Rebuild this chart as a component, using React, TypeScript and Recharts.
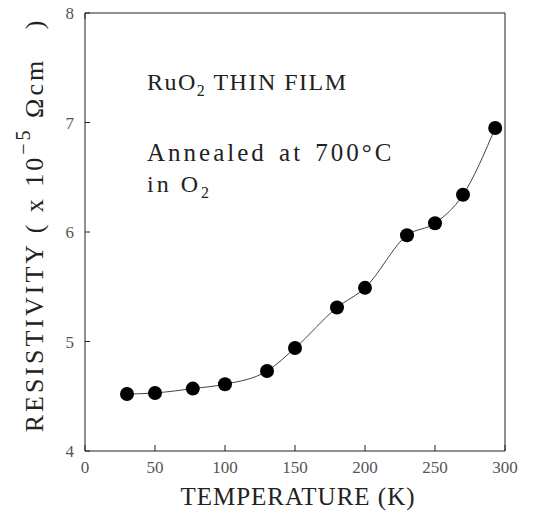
import React from 'react';
import { LineChart, Line, XAxis, YAxis } from 'recharts';

const temperature = [30, 50, 77, 100, 130, 150, 180, 200, 230, 250, 270, 293];
const resistivity = [4.52, 4.53, 4.57, 4.61, 4.73, 4.94, 5.31, 5.49, 5.97, 6.08, 6.34, 6.95];
const xTicks = [0, 50, 100, 150, 200, 250, 300];
const yTicks = [4, 5, 6, 7, 8];

const data = temperature.map((t, i) => ({ t, r: resistivity[i] }));

const FONT = '"Liberation Serif", "DejaVu Serif", serif';
const INK = '#222';
const LABEL = '#555';

const BottomTick: React.FC<any> = ({ x, y, payload }) => (
    <g>
        <line x1={x} y1={y} x2={x} y2={y - 6} stroke={INK} />
        <text x={x} y={y + 22} textAnchor="middle" fontSize={17} fill={LABEL} fontFamily={FONT}>
            {payload.value}
        </text>
    </g>
);

const TopTick: React.FC<any> = ({ x, y }) => (
    <line x1={x} y1={y} x2={x} y2={y + 6} stroke={INK} />
);

const LeftTick: React.FC<any> = ({ x, y, payload }) => (
    <g>
        <line x1={x} y1={y} x2={x + 5} y2={y} stroke={INK} />
        <text x={x - 11} y={y + 6} textAnchor="end" fontSize={17} fill={LABEL} fontFamily={FONT}>
            {payload.value}
        </text>
    </g>
);

const RightTick: React.FC<any> = ({ x, y }) => (
    <line x1={x} y1={y} x2={x - 5} y2={y} stroke={INK} />
);

const YTitle: React.FC<any> = () => (
    <text
        transform="translate(43, 225) rotate(-90)"
        textAnchor="middle"
        fontSize={26}
        fill={INK}
        fontFamily={FONT}
        letterSpacing={3}
        style={{ whiteSpace: 'pre' }}
    >
        {'RESISTIVITY ( x 10'}
        <tspan dy={-13} fontSize={20}>−5</tspan>
        <tspan dy={13}>{' Ωcm   )'}</tspan>
    </text>
);

const XTitle: React.FC<any> = () => (
    <text x={298} y={505} textAnchor="middle" fontSize={25} fill={INK} fontFamily={FONT} letterSpacing={1}>
        TEMPERATURE (K)
    </text>
);

const noteStyle: React.CSSProperties = {
    position: 'absolute',
    left: 147,
    fontFamily: FONT,
    fontSize: 24,
    color: INK,
    letterSpacing: 1.5,
    whiteSpace: 'nowrap',
    lineHeight: 1,
};

export default function App() {
    return (
        <div style={{ position: 'absolute', left: 0, top: 0, width: 546, height: 519, background: '#fff' }}>
            <LineChart width={546} height={519} data={data} margin={{ top: 12, right: 40, left: 84, bottom: 67 }}>
                <XAxis
                    xAxisId="b"
                    dataKey="t"
                    type="number"
                    domain={[0, 300]}
                    ticks={xTicks}
                    tickSize={0}
                    tickMargin={0}
                    tickLine={false}
                    tick={<BottomTick />}
                    height={1}
                    stroke={INK}
                    interval={0}
                    label={<XTitle />}
                />
                <XAxis
                    xAxisId="t"
                    orientation="top"
                    type="number"
                    domain={[0, 300]}
                    ticks={xTicks}
                    tickSize={0}
                    tickMargin={0}
                    tickLine={false}
                    tick={<TopTick />}
                    height={1}
                    stroke={INK}
                    interval={0}
                />
                <YAxis
                    yAxisId="l"
                    type="number"
                    domain={[4, 8]}
                    ticks={yTicks}
                    tickSize={0}
                    tickMargin={0}
                    tickLine={false}
                    tick={<LeftTick />}
                    width={1}
                    stroke={INK}
                    interval={0}
                    label={<YTitle />}
                />
                <YAxis
                    yAxisId="r"
                    orientation="right"
                    type="number"
                    domain={[4, 8]}
                    ticks={yTicks}
                    tickSize={0}
                    tickMargin={0}
                    tickLine={false}
                    tick={<RightTick />}
                    width={1}
                    stroke={INK}
                    interval={0}
                />
                <Line
                    xAxisId="b"
                    yAxisId="l"
                    type="monotone"
                    dataKey="r"
                    stroke="#444"
                    strokeWidth={1}
                    dot={{ r: 7, fill: '#000', stroke: '#000', strokeWidth: 0 }}
                    isAnimationActive={false}
                />
            </LineChart>
            <div style={{ ...noteStyle, top: 70 }}>
                RuO<sub style={{ fontSize: 16 }}>2</sub> THIN FILM
            </div>
            <div style={{ ...noteStyle, top: 140, fontSize: 25, letterSpacing: 3, wordSpacing: 3 }}>
                Annealed at 700°C
            </div>
            <div style={{ ...noteStyle, top: 172, letterSpacing: 3 }}>
                in O<sub style={{ fontSize: 16 }}>2</sub>
            </div>
        </div>
    );
}
